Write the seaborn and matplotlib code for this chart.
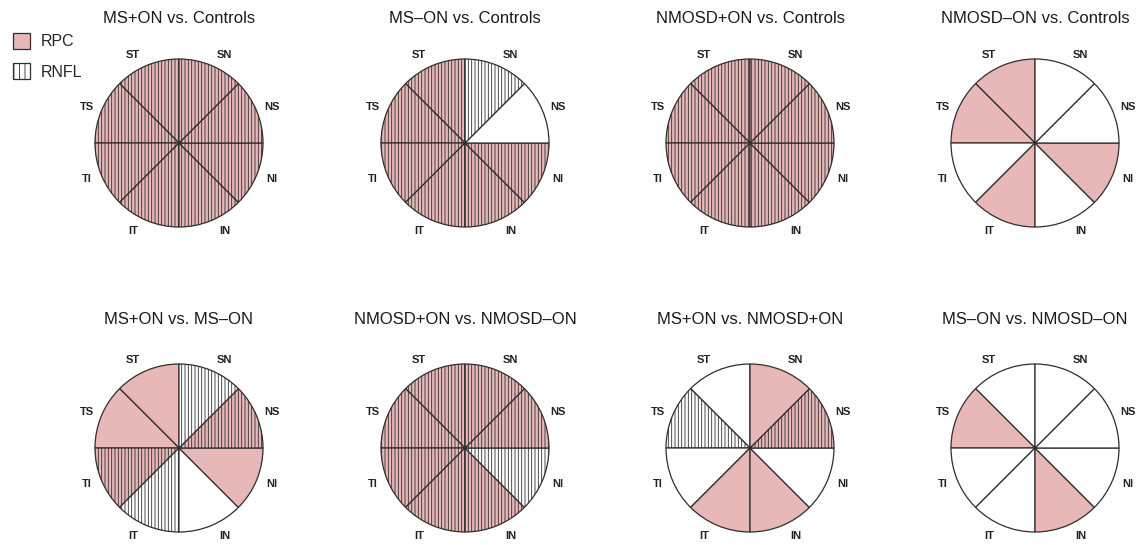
import matplotlib
matplotlib.use('Agg')
import matplotlib.pyplot as plt
import seaborn as sns
import numpy as np
from matplotlib.patches import Patch

# sectors in drawing order, counter-clockwise from 12 o'clock
sectors = ["ST", "TS", "TI", "IT", "IN", "NI", "NS", "SN"]

titles = [
    "MS+ON vs. Controls", "MS\u2013ON vs. Controls",
    "NMOSD+ON vs. Controls", "NMOSD\u2013ON vs. Controls",
    "MS+ON vs. MS\u2013ON", "NMOSD+ON vs. NMOSD\u2013ON",
    "MS+ON vs. NMOSD+ON", "MS\u2013ON vs. NMOSD\u2013ON",
]

# 1 = significant difference in that sector
rpc_sig = [
    [1, 1, 1, 1, 1, 1, 1, 1],
    [1, 1, 1, 1, 1, 1, 0, 0],
    [1, 1, 1, 1, 1, 1, 1, 1],
    [1, 1, 0, 1, 0, 1, 0, 0],
    [1, 1, 1, 0, 0, 1, 1, 0],
    [1, 1, 1, 1, 1, 0, 1, 1],
    [0, 0, 0, 1, 1, 0, 1, 1],
    [0, 1, 0, 0, 1, 0, 0, 0],
]
rnfl_sig = [
    [1, 1, 1, 1, 1, 1, 1, 1],
    [1, 1, 1, 1, 1, 1, 0, 1],
    [1, 1, 1, 1, 1, 1, 1, 1],
    [0, 0, 0, 0, 0, 0, 0, 0],
    [0, 0, 1, 1, 0, 0, 1, 1],
    [1, 1, 1, 1, 1, 1, 1, 1],
    [0, 1, 0, 0, 0, 0, 1, 0],
    [0, 0, 0, 0, 0, 0, 0, 0],
]

sns.set_theme(style="white")
plt.rcParams['font.family'] = ['Liberation Sans', 'DejaVu Sans']
plt.rcParams['hatch.linewidth'] = 0.6

PINK = "#e8b8b8"
EDGE = "#2e2e2e"
W, H = 1139, 545

fig = plt.figure(figsize=(W / 100, H / 100), dpi=100)

# pixel layout of pie centres
col_x = [179, 465, 750, 1035]
row_y = [143, 448]
title_off = [125, 128]   # px between pie centre and title centre
radius_px = 84
lim = 1.4
box = 2 * lim * radius_px
label_r = 1.18

for i, title in enumerate(titles):
    r, c = divmod(i, 4)
    cx, cy = col_x[c], row_y[r]
    ax = fig.add_axes([(cx - box / 2) / W, 1 - (cy + box / 2) / H, box / W, box / H])
    colors = [PINK if v else "white" for v in rpc_sig[i]]
    hatches = ["|||||" if v else "" for v in rnfl_sig[i]]
    wedges, texts = ax.pie(
        [1] * len(sectors),
        labels=sectors,
        colors=colors,
        hatch=hatches,
        startangle=90,
        labeldistance=label_r,
        wedgeprops=dict(edgecolor=EDGE, linewidth=0.9),
        textprops=dict(fontsize=8, fontweight='bold', color="#222222"),
    )
    # centre labels and spread the top/bottom ones a little toward the sides
    for w, t in zip(wedges, texts):
        mid = (w.theta1 + w.theta2) / 2
        ang = np.deg2rad(mid)
        tilt = 5 if abs(np.sin(ang)) > 0.7 else 1.5
        side = np.sign(np.cos(ang)) * np.sign(np.sin(ang))
        ang = np.deg2rad(mid - side * tilt)
        t.set_position((label_r * np.cos(ang), label_r * np.sin(ang)))
        t.set_ha('center')
        t.set_va('center')
    ax.set_xlim(-lim, lim)
    ax.set_ylim(-lim, lim)
    ax.set_aspect('equal')
    ax.axis('off')
    ax.text(0.5, 0.5 + title_off[r] / box, title, transform=ax.transAxes,
            ha='center', va='center', fontsize=12, color="#1a1a1a")

handles = [
    Patch(facecolor=PINK, edgecolor=EDGE, linewidth=0.9, label="RPC"),
    Patch(facecolor="white", edgecolor=EDGE, linewidth=0.9, hatch="|||", label="RNFL"),
]
fig.legend(handles=handles, loc='upper left', bbox_to_anchor=(-0.001, 0.966),
           frameon=False, fontsize=11.5, handlelength=1.05, handleheight=1.2,
           handletextpad=0.7, labelspacing=0.85)

fig.savefig("out.png", dpi=100)
